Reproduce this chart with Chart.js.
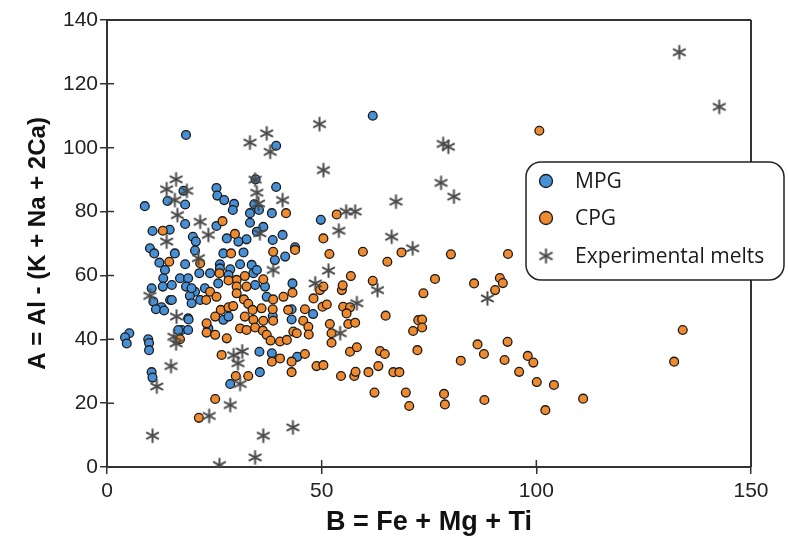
<!DOCTYPE html>
<html>
<head>
<meta charset="utf-8">
<script src="https://cdn.jsdelivr.net/npm/chart.js@4"></script>
<style>
  html, body { margin: 0; padding: 0; background: #fff; }
  #wrap { position: relative; width: 788px; height: 543px; }
</style>
</head>
<body>
<div id="wrap"><canvas id="chart" width="788" height="543"></canvas></div>
<script>
// B = Fe + Mg + Ti (x), A = Al - (K + Na + 2Ca) (y)
const mpg = [
  [18.4,104],[39.4,100.6],[61.9,110],[34.6,90.1],[39.4,87.7],[17.8,86.5],[25.5,87.4],[25.7,85],
  [27.3,83.6],[29.6,82.4],[29.3,80.5],[8.8,81.7],[14.1,83.3],[18.2,82.2],[34.3,82.3],[35.4,80.5],
  [33.3,79.5],[38.4,79.5],[49.8,77.4],[18.2,76.1],[25.5,75.5],[33.3,76.5],[36.4,75.2],[10.6,73.9],
  [14.6,74.3],[20,72.1],[20.7,70.6],[27.9,71.6],[32.5,71.3],[34.9,73.7],[38.6,71.1],[40.9,72.7],
  [10,68.5],[11,66.9],[15.8,66.9],[12.2,64],[20.5,67.8],[27.1,66.9],[31.8,67.2],[39.1,64.8],
  [41.5,65.9],[43.8,68.8],[18.2,63.5],[26.3,63.5],[31,63.5],[33.7,63.3],[13.5,61.7],[13.1,59.1],
  [17,59.1],[18.9,59.1],[21.5,60.7],[24,60.7],[28.7,61.9],[34.1,60.7],[43.2,57.5],[10.4,56],
  [13,56.5],[15.1,57],[18.4,56.5],[20.5,54.9],[22.8,56],[25.9,57.5],[34.5,57],[36.8,56.5],
  [37.2,53.3],[10.8,51.8],[12.7,50],[14.7,52.3],[19.3,53.6],[19.7,51.3],[21.7,52.3],[38.6,47.3],
  [11.4,49.4],[13.3,49],[18.9,46.6],[27.1,46.1],[17.4,42.9],[18.9,42.9],[5.2,41.9],[4.2,40.6],
  [9.6,40],[4.6,38.7],[9.8,38.8],[9.8,36.6],[10.4,29.7],[10.6,28],[28.7,26],[35.6,29.7],
  [35.5,36.1],[38.4,35.6],[44.3,34.5],[43,49.4],[43,46.2],[48,47.9],
  [30.6,70.6],[26.3,62.2],[34.9,61.7],[28.3,60.1],[19.7,56],[15.1,52.3],[19,46.2],[28.3,47.1],
  [23.6,43.4],[16.6,42.9]
];
const cpg = [
  [26.9,77],[13,74],[41.7,79.5],[53.5,79.1],[100.7,105.3],[29.8,73],[14.5,64.3],[21.7,63.8],
  [28.9,66.9],[38.7,67.4],[43.8,68],[26.2,60.7],[32.1,59.8],[36.4,58.8],[30.2,58.6],[43.2,54.6],
  [24,54.9],[28.3,58.4],[30.2,56.5],[30.2,54.4],[32.5,56.5],[38.7,52.5],[41.1,53.3],[23.1,52.3],
  [25.5,53.3],[26.5,49.2],[28.3,50],[29.4,50.4],[31.9,52.5],[32.9,51.1],[33.9,49.2],[36,49.7],
  [38.6,49.4],[42.2,49.2],[23.2,45],[25.2,47.1],[32.1,47.1],[34.1,46.1],[36.4,45.8],[38.7,45.8],
  [43.4,42.4],[17,40],[23.2,42.1],[25.2,41.4],[31,43.4],[32.5,42.9],[34.5,43.7],[36.3,42.7],
  [37.2,41.4],[38.1,39.6],[40.3,39.3],[41.9,39.8],[44.2,41.9],[27.9,40.3],[25.2,21.3],[21.4,15.4],
  [26.7,35.1],[30,28.5],[32.9,28.5],[38.4,33],[40.3,34],[43,33],[43,29.7],
  [50.4,71.6],[68.6,67.2],[80.1,66.6],[59.6,67.4],[51.8,66.7],[65.3,64.3],[56.8,59.8],[61.9,58.3],
  [76.4,58.9],[85.5,57.5],[73.7,54.4],[49.6,55.4],[50.4,56.5],[54.7,55.4],[54.9,56.9],[48.1,52.8],
  [50.2,50.2],[51.2,50.9],[46.1,49.4],[55,50.2],[56.6,50],[55.8,48.1],[64.9,47.4],[72.5,46],
  [73.4,46.2],[73.4,43.7],[71.3,42.6],[45.7,45.8],[46.9,43.9],[47,41.5],[51.9,44.8],[56.2,44.8],
  [57.8,45.2],[52.3,41.9],[52.3,38.9],[56.6,36.1],[58.2,37.5],[63.6,36.3],[64.7,35.4],[72.3,36.6],
  [86.3,38.4],[87.8,35.4],[82.4,33.3],[48.8,31.6],[50.4,31.9],[54.5,28.5],[57.6,28.5],[57.9,29.8],
  [60.9,29.7],[63.2,31.6],[66.7,29.7],[68.1,29.7],[46.1,35.4],[62.3,23.3],[69.6,23.3],[70.4,19.1],
  [78.5,22.9],[78.7,19.6],[87.9,21],[93.4,66.7],[91.5,59.2],[92.2,57.6],[90.4,55.4],[134.1,42.9],
  [132.1,33],[93.3,39.2],[92.6,33.5],[98,34.8],[99.3,32.7],[96,29.8],[100.1,26.6],[104.1,25.7],
  [102.1,17.8],[110.9,21.4]
];
const melts = [
  [16.1,90.1],[13.9,87],[18.6,86.5],[15.8,83.6],[16.4,78.9],[33.3,101.6],[37.2,104.5],[38,98.7],
  [34.5,90],[34.9,85.9],[35.3,82.5],[40.9,83.6],[21.7,76.8],[35.6,73.2],[23.6,72.7],[13.9,70.6],
  [21.3,65.4],[38.7,61.7],[10,53.6],[16.2,47.1],[15.6,40.8],[16.1,38.7],[14.9,31.6],[11.6,25.2],
  [10.6,9.8],[23.8,16],[28.7,19.4],[26.2,0.6],[34.5,3],[36.4,9.8],[43.3,12.4],[29.5,35],
  [31.5,36.2],[30.5,32.5],[31,26],[49.5,107.4],[78.3,101.2],[79.5,100.3],[50.4,93],[77.8,89],
  [80.8,84.7],[67.3,83.1],[55.7,80],[57.8,80],[54,74],[66.3,72.1],[71.2,68.5],[51.6,61.5],
  [63,55.4],[48.5,57.5],[58.2,51.3],[54.3,41.9],[88.6,52.8],[133.3,129.9],[142.6,112.8]
];
const seriesNames = ['MPG', 'CPG', 'Experimental melts'];
const xTicks = [0, 50, 100, 150];
const yTicks = [0, 20, 40, 60, 80, 100, 120, 140];

const blue = '#4790d6';
const orange = '#ef8a2e';
const starGrey = '#4a4a4a';

function makeStar(r) {
  const c = document.createElement('canvas');
  const s = Math.ceil(r * 2 + 4);
  c.width = s; c.height = s;
  const g = c.getContext('2d');
  g.strokeStyle = starGrey;
  g.lineWidth = 2;
  const m = s / 2;
  [90, 28, 152].forEach(a => {
    const t = a * Math.PI / 180;
    g.beginPath();
    g.moveTo(m - r * Math.cos(t), m - r * Math.sin(t));
    g.lineTo(m + r * Math.cos(t), m + r * Math.sin(t));
    g.stroke();
  });
  return c;
}
const starImg = makeStar(7.2);
const starLegend = makeStar(7.5);

const toXY = arr => arr.map(p => ({x: p[0], y: p[1]}));

// box, inner ticks and the legend
const framePlugin = {
  id: 'frame',
  afterDraw(chart) {
    const {ctx, chartArea: a, scales} = chart;
    ctx.save();
    ctx.strokeStyle = '#333';
    ctx.lineWidth = 2;
    ctx.beginPath();
    ctx.moveTo(a.left, a.top); ctx.lineTo(a.right, a.top);
    ctx.moveTo(a.right, a.top); ctx.lineTo(a.right, a.bottom);
    ctx.stroke();
    ctx.lineWidth = 1.5;
    ctx.beginPath();
    xTicks.forEach(v => {
      const px = scales.x.getPixelForValue(v);
      ctx.moveTo(px, a.bottom); ctx.lineTo(px, a.bottom - 7);
    });
    yTicks.forEach(v => {
      const py = scales.y.getPixelForValue(v);
      ctx.moveTo(a.left, py); ctx.lineTo(a.left + 7, py);
    });
    ctx.stroke();

    // legend
    const lx = 526, ly = 162, lw = 258, lh = 118, rad = 15;
    ctx.beginPath();
    ctx.roundRect(lx, ly, lw, lh, rad);
    ctx.fillStyle = '#fff';
    ctx.fill();
    ctx.lineWidth = 1.5;
    ctx.strokeStyle = '#222';
    ctx.stroke();
    const rows = [181, 218, 256];
    ctx.font = '21px "Open Sans", "Noto Sans", sans-serif';
    ctx.textBaseline = 'middle';
    rows.forEach((ry, i) => {
      if (i < 2) {
        ctx.beginPath();
        ctx.arc(546, ry, 6.5, 0, Math.PI * 2);
        ctx.fillStyle = i === 0 ? blue : orange;
        ctx.fill();
        ctx.lineWidth = 1.3;
        ctx.strokeStyle = '#1a1a1a';
        ctx.stroke();
      } else {
        ctx.drawImage(starLegend, 546 - starLegend.width / 2, ry - starLegend.height / 2);
      }
      ctx.fillStyle = '#1a1a1a';
      ctx.fillText(seriesNames[i], 575, ry + 1);
    });
    ctx.restore();
  }
};

new Chart(document.getElementById('chart'), {
  type: 'scatter',
  data: {
    datasets: [
      {
        label: seriesNames[2], data: toXY(melts), order: 0,
        pointStyle: starImg, pointRadius: 7, pointHoverRadius: 7
      },
      {
        label: seriesNames[1], data: toXY(cpg), order: 1,
        backgroundColor: orange, borderColor: '#1a1a1a', borderWidth: 1.3,
        pointRadius: 4.4, pointHoverRadius: 4.4
      },
      {
        label: seriesNames[0], data: toXY(mpg), order: 2,
        backgroundColor: blue, borderColor: '#1a1a1a', borderWidth: 1.3,
        pointRadius: 4.4, pointHoverRadius: 4.4
      }
    ]
  },
  options: {
    responsive: false,
    animation: false,
    events: [],
    layout: { padding: { top: 20, right: 37, left: 0, bottom: 0 } },
    plugins: { legend: { display: false }, tooltip: { enabled: false } },
    scales: {
      x: {
        type: 'linear', min: 0, max: 150,
        afterBuildTicks: s => { s.ticks = xTicks.map(v => ({value: v})); },
        afterFit: s => { s.height = 76; },
        ticks: { color: '#222', font: { family: '"Liberation Sans", Arial, sans-serif', size: 21 }, padding: 5, maxRotation: 0 },
        grid: { drawOnChartArea: false, drawTicks: true, tickLength: 7, color: '#333', lineWidth: 1.5 },
        border: { color: '#333', width: 2 },
        title: {
          display: true, text: 'B = Fe + Mg + Ti', color: '#111',
          font: { family: '"Liberation Sans", Arial, sans-serif', size: 27, weight: 'bold' },
          padding: { top: 0, bottom: 4 }
        }
      },
      y: {
        type: 'linear', min: 0, max: 140,
        afterBuildTicks: s => { s.ticks = yTicks.map(v => ({value: v})); },
        afterFit: s => { s.width = 107; },
        ticks: { color: '#222', font: { family: '"Liberation Sans", Arial, sans-serif', size: 21 }, padding: 2 },
        grid: { drawOnChartArea: false, drawTicks: true, tickLength: 7, color: '#333', lineWidth: 1.5 },
        border: { color: '#333', width: 2 },
        title: {
          display: true, text: 'A = Al - (K + Na + 2Ca)', color: '#111',
          font: { family: '"Liberation Sans", Arial, sans-serif', size: 24, weight: 'bold' },
          padding: { top: 24, bottom: 0 }
        }
      }
    }
  },
  plugins: [framePlugin]
});
</script>
</body>
</html>
